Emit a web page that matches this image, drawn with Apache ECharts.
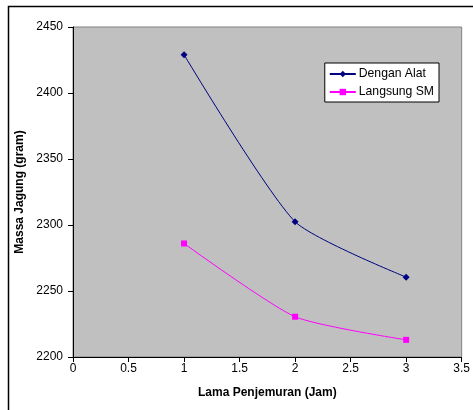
<!DOCTYPE html>
<html>
<head>
<meta charset="utf-8">
<script src="https://cdn.jsdelivr.net/npm/echarts@6/dist/echarts.min.js"></script>
<style>
  html, body { margin: 0; padding: 0; background: #fff; }
  #chart { width: 473px; height: 410px; }
</style>
</head>
<body>
<div id="chart"></div>
<script>
// lama penjemuran (jam)
var hours = [1, 2, 3];
var denganAlat = [2429, 2302.5, 2260.5];
var langsungSM = [2286, 2230.5, 2213];
var xTicks = [0, 0.5, 1, 1.5, 2, 2.5, 3, 3.5];
var yTicks = [2200, 2250, 2300, 2350, 2400, 2450];

function pairs(xs, ys) {
  return xs.map(function (x, i) { return [x, ys[i]]; });
}

var myChart = echarts.init(document.getElementById("chart"));
myChart.setOption({
  animation: false,
  textStyle: { fontFamily: "Liberation Sans, Arial, sans-serif" },
  graphic: [
    {
      type: "rect",
      shape: { x: 8.5, y: 6.5, width: 480, height: 420 },
      style: { fill: "none", stroke: "#000", lineWidth: 1.5 },
      z: -1
    }
  ],
  grid: {
    left: 73,
    top: 27,
    right: 6.5,
    bottom: 53,
    show: true,
    backgroundColor: "#c0c0c0",
    borderColor: "#808080",
    borderWidth: 1
  },
  legend: {
    right: 34,
    top: 63,
    orient: "vertical",
    backgroundColor: "#fff",
    borderColor: "#000",
    borderWidth: 1,
    padding: [5, 5, 4, 4],
    itemGap: 6,
    itemWidth: 26,
    itemHeight: 8,
    textStyle: { fontSize: 12.2, color: "#000", padding: [0, 0, 0, -2] },
    data: ["Dengan Alat", "Langsung SM"]
  },
  xAxis: {
    type: "value",
    min: xTicks[0],
    max: xTicks[xTicks.length - 1],
    interval: 0.5,
    name: "Lama Penjemuran (Jam)",
    nameLocation: "middle",
    nameGap: 30,
    nameTextStyle: { fontWeight: "bold", fontSize: 12, color: "#000" },
    axisLine: { lineStyle: { color: "#000", width: 1 } },
    axisTick: { show: true, length: 5, lineStyle: { color: "#000" } },
    axisLabel: { color: "#000", fontSize: 12, margin: 6 },
    splitLine: { show: false }
  },
  yAxis: {
    type: "value",
    min: yTicks[0],
    max: yTicks[yTicks.length - 1],
    interval: 50,
    name: "Massa Jagung (gram)",
    nameLocation: "middle",
    nameGap: 43,
    nameTextStyle: { fontWeight: "bold", fontSize: 12, color: "#000" },
    axisLine: { show: true, lineStyle: { color: "#000", width: 1 } },
    axisTick: { show: true, length: 5, lineStyle: { color: "#000" } },
    axisLabel: {
      color: "#000",
      fontSize: 12,
      margin: 10,
      formatter: function (v) { return String(v); }
    },
    splitLine: { show: false }
  },
  series: [
    {
      name: "Dengan Alat",
      type: "line",
      smooth: 0.2,
      data: pairs(hours, denganAlat),
      symbol: "diamond",
      symbolSize: 7,
      color: "#000080",
      lineStyle: { color: "#000080", width: 1 },
      itemStyle: { color: "#000080" }
    },
    {
      name: "Langsung SM",
      type: "line",
      smooth: 0.2,
      data: pairs(hours, langsungSM),
      symbol: "rect",
      symbolSize: 6,
      color: "#ff00ff",
      lineStyle: { color: "#ff00ff", width: 1 },
      itemStyle: { color: "#ff00ff" }
    }
  ]
});
</script>
</body>
</html>
